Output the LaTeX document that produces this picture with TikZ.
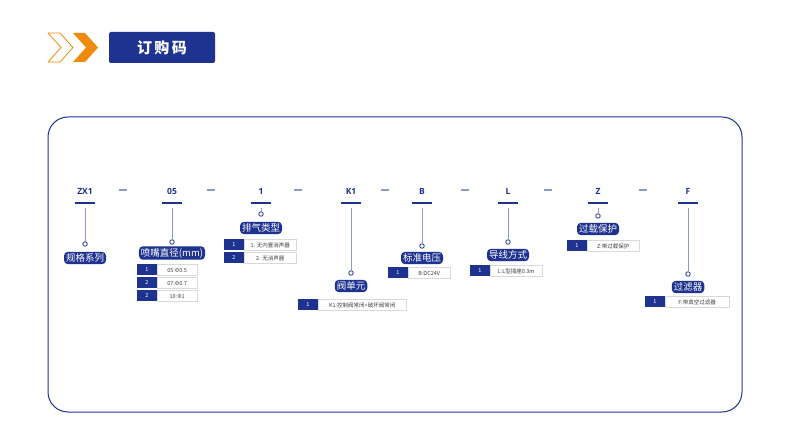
\documentclass[tikz,border=0pt]{standalone}
\usepackage{fontspec}
\setmainfont{Noto Sans CJK SC}
\newfontfamily\codefont{Open Sans}
\begin{document}
\begin{tikzpicture}[x=1pt,y=-1pt,
  font=\fontsize{7}{8}\selectfont,
  code/.style={font=\codefont\bfseries\fontsize{8.5}{9}\selectfont,text=dblue,inner sep=1pt},
  lab/.style={fill=dblue,text=white,rounded corners=4pt,inner xsep=2pt,inner ysep=1.8pt,font=\fontsize{9.5}{11}\selectfont},
  circ/.style={circle,draw=dblue,line width=0.8pt,fill=white,inner sep=0pt,minimum size=4.5pt},
  vline/.style={draw=lblue,line width=1pt},
  bar/.style={draw=dblue,line width=1.6pt},
  dsh/.style={draw=lblue,line width=1.2pt},
  cellnum/.style={fill=dblue,text=white,minimum height=11pt,minimum width=20pt,inner sep=0pt,font=\fontsize{5.5}{6}\selectfont},
  celltxt/.style={draw=gray!30,fill=white,text=black!75,minimum height=11pt,inner sep=0pt,anchor=west,font=\fontsize{5.5}{6}\selectfont}]
\definecolor{dblue}{HTML}{1E3290}
\definecolor{lblue}{HTML}{8D98CC}
\definecolor{orng}{HTML}{F08A0A}
\useasboundingbox (0,0) rectangle (790,438);
\fill[white] (0,0) rectangle (790,438);
% header
\draw[orng,line width=0.8pt,line join=round] (48,33)--(60,33)--(73,47.5)--(60,62)--(48,62)--(61,47.5)--cycle;
\fill[orng] (73,33)--(85,33)--(98,47.5)--(85,62)--(73,62)--(86,47.5)--cycle;
\node[fill=dblue,rounded corners=2pt,minimum width=106pt,minimum height=31pt,text=white,font=\bfseries\fontsize{15}{17}\selectfont] (title) at (162,47.5) {订\,购\,码};
% frame
\draw[dblue,line width=1pt,rounded corners=20pt] (48,117) rectangle (742,412);
% codes
\foreach \n/\x/\t in {c1/85/ZX1,c2/172/05,c3/261/1,c4/351/K1,c5/422/B,c6/508/L,c7/598/Z,c8/688/F}{
  \node[code] (\n) at (\x,191) {\t};
  \draw[bar] (\x-10,203)--(\x+10,203);
  \coordinate (\n t) at (\x,208);
}
\foreach \x in {123,211,298,385,465,548,643}{\draw[dsh] (\x-4,190)--(\x+4,190);}
% circles and labels
\foreach \n/\x/\cy/\ly/\t in {a/85/244/258/规格系列,b/172/242/253/喷嘴直径(mm),c/261/214/228/排气类型,d/351/273/286/阀单元,e/422/246/258/标准电压,f/508/242/255/导线方式,g/598/216/229/过载保护,h/688/274/287/过滤器}{
  \node[circ] (o\n) at (\x,\cy) {};
  \node[lab] (l\n) at (\x,\ly) {\t};
}
\draw[vline] (c1t)--(oa); \draw[vline] (c2t)--(ob); \draw[vline] (c3t)--(oc);
\draw[vline] (c4t)--(od); \draw[vline] (c5t)--(oe); \draw[vline] (c6t)--(of);
\draw[vline] (c7t)--(og); \draw[vline] (c8t)--(oh);
% tables
\newcommand{\trow}[6]{% name, x, y, num, width, text
  \node[cellnum] (#1n) at (#2+10,#3) {#4};
  \node[celltxt,minimum width=#5pt] (#1t) at (#2+20,#3) {#6};}
\trow{b1}{137}{270}{1}{40}{05:Φ0.5}
\trow{b2}{137}{283}{2}{40}{07:Φ0.7}
\trow{b3}{137}{296}{2}{40}{10:Φ1}
\trow{c1r}{224}{245}{1}{52}{1. 无内置消声器}
\trow{c2r}{224}{258}{2}{52}{2. 无消声器}
\trow{d1}{298}{305}{1}{88}{K1:控制阀常闭+破坏阀常闭}
\trow{e1}{388}{273}{1}{42}{B:DC24V}
\trow{f1}{470}{271}{1}{52}{L:L型插座0.3m}
\trow{g1}{567}{246}{1}{52}{Z:带过载保护}
\trow{h1}{645}{302}{1}{64}{F:带真空过滤器}
\end{tikzpicture}
\end{document}
